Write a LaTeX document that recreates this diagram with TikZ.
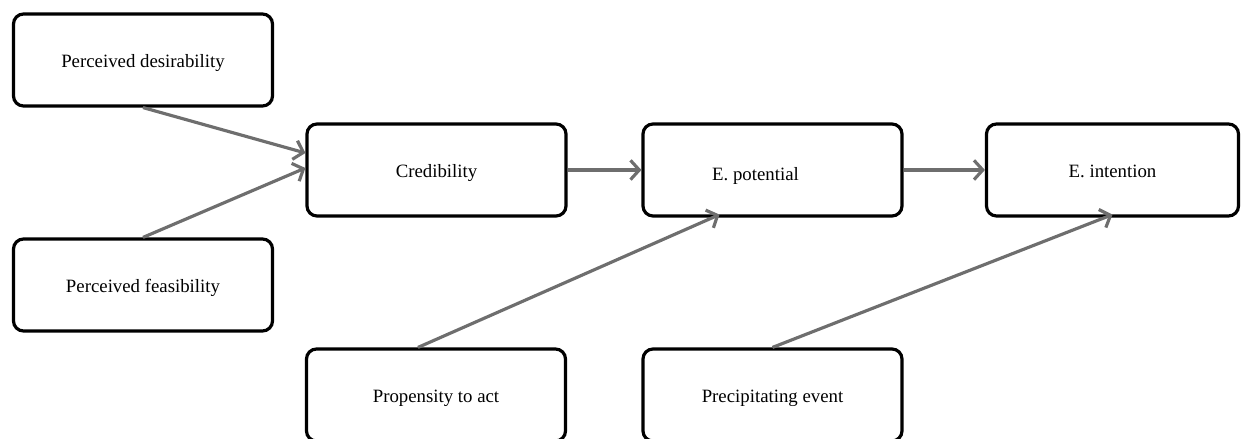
\documentclass[tikz,border=0pt]{standalone}
\usepackage{fontspec}
\setmainfont{Liberation Serif}
\usetikzlibrary{arrows.meta}
\usetikzlibrary{calc, positioning}
\definecolor{pfeil}{RGB}{110,110,110}

\begin{document}
\begin{tikzpicture}[
    box/.style={draw=black, line width=1.8pt, rounded corners=0.2cm, fill=white,
        minimum width=5.18cm, minimum height=1.84cm, inner sep=0pt,
        text height=2.3ex, text depth=0.5ex,
        font=\fontsize{10.7}{13}\selectfont},
    link/.style={draw=pfeil, line width=1.8pt, -{Straight Barb[length=5pt, width=11pt]}}
]

    \useasboundingbox (0,0) rectangle (24.82,8.78);

    % inputs on the left
    \node[box] (desir) at (2.86,7.58) {Perceived desirability};
    \node[box] (feas)  at (2.86,3.08) {Perceived feasibility};

    % main chain
    \node[box] (cred)   at (8.73,5.38)  {Credibility};
    \node[box] (potent) at (15.45,5.38) {\hspace*{-0.68cm}\raisebox{-0.06cm}{E. potential}};
    \node[box, minimum width=5.04cm] (intent) at (22.25,5.38) {E. intention};

    % lower inputs
    \node[box] (prop)   at (8.72,0.88)  {Propensity to act};
    \node[box] (precip) at (15.45,0.88) {Precipitating event};

    \draw[link] (desir.south) -- ($(cred.west)+(0,0.34)$);
    \draw[link] (feas.north) -- ($(cred.west)+(0,0.04)$);
    \draw[link] (cred.east) -- (potent.west);
    \draw[link] (potent.east) -- (intent.west);
    \draw[link] ($(prop.north)+(-0.36,0)$) -- ($(potent.south)+(-1.06,0.06)$);
    \draw[link] (precip.north) -- ($(intent.south)+(0,0.06)$);

\end{tikzpicture}
\end{document}
